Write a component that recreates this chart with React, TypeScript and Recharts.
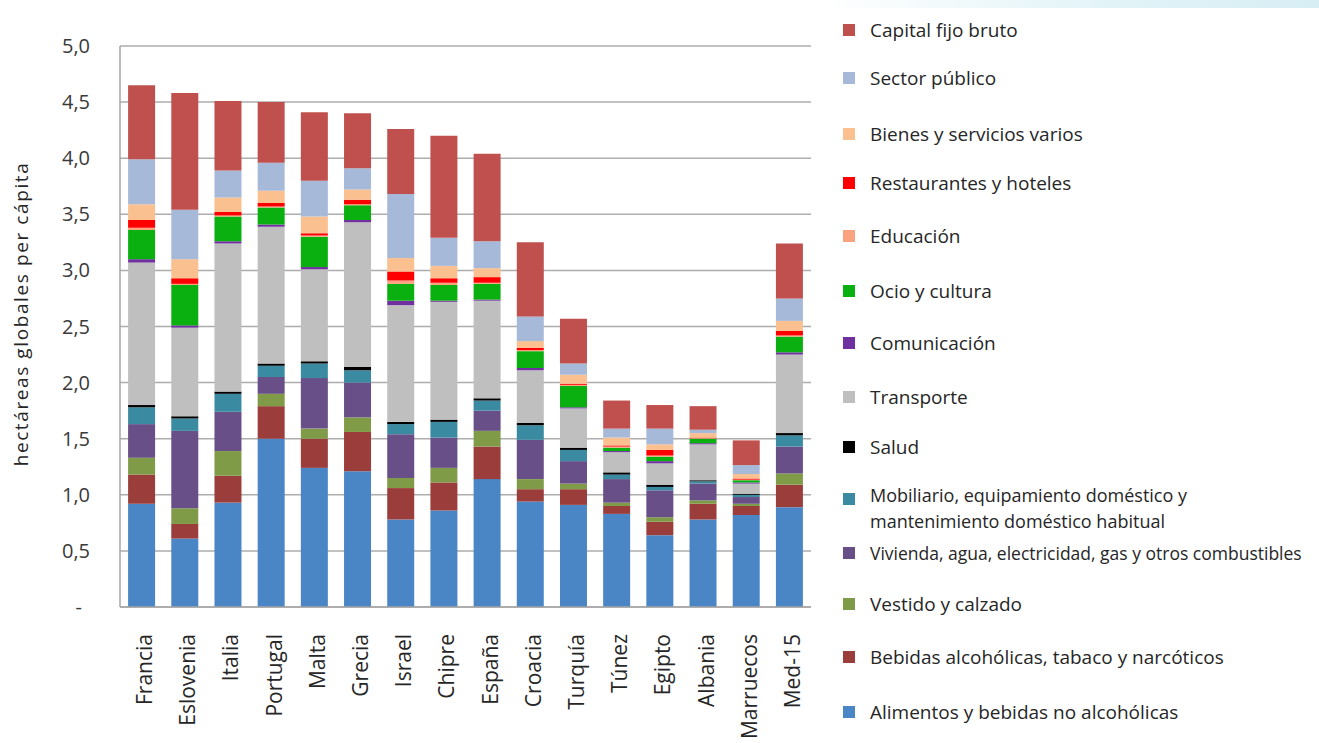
import React from 'react';
import { BarChart, Bar, XAxis, YAxis, CartesianGrid, Legend } from 'recharts';

const categories = ['Francia', 'Eslovenia', 'Italia', 'Portugal', 'Malta', 'Grecia', 'Israel', 'Chipre', 'España', 'Croacia', 'Turquía', 'Túnez', 'Egipto', 'Albania', 'Marruecos', 'Med-15'];

const alimentos = [0.92, 0.61, 0.93, 1.50, 1.24, 1.21, 0.78, 0.86, 1.14, 0.94, 0.91, 0.83, 0.64, 0.78, 0.82, 0.89];
const bebidas = [0.26, 0.13, 0.24, 0.29, 0.26, 0.35, 0.28, 0.25, 0.29, 0.11, 0.14, 0.07, 0.12, 0.14, 0.08, 0.20];
const vestido = [0.15, 0.14, 0.22, 0.11, 0.09, 0.13, 0.09, 0.13, 0.14, 0.09, 0.05, 0.03, 0.04, 0.03, 0.02, 0.10];
const vivienda = [0.30, 0.69, 0.35, 0.15, 0.45, 0.31, 0.39, 0.27, 0.18, 0.35, 0.20, 0.21, 0.24, 0.15, 0.06, 0.24];
const mobiliario = [0.15, 0.11, 0.16, 0.10, 0.13, 0.11, 0.09, 0.14, 0.09, 0.13, 0.10, 0.04, 0.03, 0.02, 0.02, 0.10];
const salud = [0.02, 0.02, 0.02, 0.02, 0.02, 0.03, 0.02, 0.02, 0.02, 0.02, 0.02, 0.02, 0.02, 0.01, 0.01, 0.02];
const transporte = [1.27, 0.79, 1.32, 1.22, 0.82, 1.29, 1.04, 1.05, 0.87, 0.47, 0.35, 0.18, 0.19, 0.32, 0.09, 0.70];
const comunicacion = [0.03, 0.02, 0.02, 0.02, 0.02, 0.02, 0.04, 0.01, 0.01, 0.02, 0.01, 0.01, 0.02, 0.01, 0.01, 0.02];
const ocio = [0.26, 0.36, 0.22, 0.15, 0.27, 0.13, 0.15, 0.14, 0.14, 0.15, 0.19, 0.03, 0.04, 0.04, 0.02, 0.14];
const educacion = [0.02, 0.01, 0.01, 0.01, 0.01, 0.01, 0.03, 0.02, 0.01, 0.01, 0.01, 0.01, 0.01, 0.005, 0.005, 0.01];
const restaurantes = [0.07, 0.05, 0.03, 0.03, 0.02, 0.04, 0.08, 0.04, 0.05, 0.02, 0.01, 0.01, 0.05, 0.005, 0.01, 0.04];
const bienes = [0.14, 0.17, 0.13, 0.11, 0.15, 0.09, 0.12, 0.11, 0.08, 0.06, 0.08, 0.07, 0.05, 0.04, 0.04, 0.09];
const sectorPublico = [0.40, 0.44, 0.24, 0.25, 0.32, 0.19, 0.57, 0.25, 0.24, 0.22, 0.10, 0.08, 0.14, 0.03, 0.08, 0.20];
const capitalFijo = [0.66, 1.04, 0.62, 0.54, 0.61, 0.49, 0.58, 0.91, 0.78, 0.66, 0.40, 0.25, 0.21, 0.21, 0.22, 0.49];

const yTicks = [0, 0.5, 1, 1.5, 2, 2.5, 3, 3.5, 4, 4.5, 5];
const yAxisTitle = 'hectáreas globales per cápita';

// stacking order: bottom -> top
const seriesDefs = [
  { key: 'alimentos', name: 'Alimentos y bebidas no alcohólicas', color: '#4A86C6', values: alimentos },
  { key: 'bebidas', name: 'Bebidas alcohólicas, tabaco y narcóticos', color: '#9B3D3B', values: bebidas },
  { key: 'vestido', name: 'Vestido y calzado', color: '#7F9B47', values: vestido },
  { key: 'vivienda', name: 'Vivienda, agua, electricidad, gas y otros combustibles', color: '#684F87', values: vivienda },
  { key: 'mobiliario', name: 'Mobiliario, equipamiento doméstico y\nmantenimiento doméstico habitual', color: '#3A8BA1', values: mobiliario },
  { key: 'salud', name: 'Salud', color: '#000000', values: salud },
  { key: 'transporte', name: 'Transporte', color: '#BFBFBF', values: transporte },
  { key: 'comunicacion', name: 'Comunicación', color: '#7030A0', values: comunicacion },
  { key: 'ocio', name: 'Ocio y cultura', color: '#09B010', values: ocio },
  { key: 'educacion', name: 'Educación', color: '#FBA27E', values: educacion },
  { key: 'restaurantes', name: 'Restaurantes y hoteles', color: '#FF0000', values: restaurantes },
  { key: 'bienes', name: 'Bienes y servicios varios', color: '#FAC08F', values: bienes },
  { key: 'sector', name: 'Sector público', color: '#A7B9D9', values: sectorPublico },
  { key: 'capital', name: 'Capital fijo bruto', color: '#C0504D', values: capitalFijo },
];

const data = categories.map((c, i) => {
  const row: any = { categoria: c };
  seriesDefs.forEach((s) => {
    row[s.key] = s.values[i];
  });
  return row;
});

// legend layout (top -> bottom), first-line centre y in px
const LEGEND_LAYOUT = {
  markerLeft: 843,
  textLeft: 870,
  lineHeight: 26,
  rows: [30, 78, 134, 183, 236, 291, 343, 397, 447, 495, 553, 604, 657, 712],
  fontSizes: [19, 19, 19, 19, 19, 19, 19, 19, 19, 18, 17.5, 19, 19, 19],
};

const TEXT_FONT = '"Open Sans", "Noto Sans", sans-serif';

const fmtTick = (v: number) => (v === 0 ? '-' : v.toFixed(1).replace('.', ','));

const YTick = (props: any) => {
  const { x, y, payload } = props;
  const v = payload.value as number;
  return (
    <text
      x={v === 0 ? x - 8 : x}
      y={y}
      dy="0.35em"
      textAnchor="end"
      fontSize={20}
      fontFamily={TEXT_FONT}
      fill="#3A3A3A"
    >
      {fmtTick(v)}
    </text>
  );
};

const XTick = (props: any) => {
  const { x, y, payload } = props;
  return (
    <text
      x={0}
      y={0}
      transform={`translate(${x},${y}) rotate(-90)`}
      dy="0.5em"
      textAnchor="end"
      fontSize={21}
      fontFamily={TEXT_FONT}
      fill="#262626"
    >
      {payload.value}
    </text>
  );
};

const YTitle = (props: any) => {
  const vb = props.viewBox || { x: 0, y: 46, width: 120, height: 561 };
  const cx = vb.x + 21;
  const cy = vb.y + 268;
  return (
    <text
      x={0}
      y={0}
      transform={`translate(${cx},${cy}) rotate(-90)`}
      textAnchor="middle"
      dy="0.35em"
      fontSize={19}
      letterSpacing={1.6}
      fontFamily={TEXT_FONT}
      fill="#262626"
    >
      {yAxisTitle}
    </text>
  );
};

const renderLegend = () => {
  const items = seriesDefs.slice().reverse();
  return (
    <div style={{ position: 'absolute', left: 0, top: 0, width: 0, height: 0 }}>
      {items.map((s, i) => {
        const cy = LEGEND_LAYOUT.rows[i];
        const lh = LEGEND_LAYOUT.lineHeight;
        return (
          <React.Fragment key={s.key}>
            <div
              style={{
                position: 'absolute',
                left: LEGEND_LAYOUT.markerLeft,
                top: cy - 6 + (s.name.includes('\n') ? 4 : 0),
                width: 12,
                height: 12,
                background: s.color,
              }}
            />
            <div
              style={{
                position: 'absolute',
                left: LEGEND_LAYOUT.textLeft,
                top: cy - lh / 2,
                lineHeight: `${lh}px`,
                fontSize: LEGEND_LAYOUT.fontSizes[i],
                fontFamily: TEXT_FONT,
                color: '#262626',
                whiteSpace: 'pre',
              }}
            >
              {s.name}
            </div>
          </React.Fragment>
        );
      })}
    </div>
  );
};

export default function App() {
  return (
    <div
      style={{
        position: 'absolute',
        left: 0,
        top: 0,
        width: 1319,
        height: 743,
        background: '#ffffff',
        overflow: 'hidden',
        fontFamily: TEXT_FONT,
      }}
    >
      <div
        style={{
          position: 'absolute',
          left: 820,
          top: 0,
          width: 499,
          height: 8,
          background: 'linear-gradient(to right, rgba(225,243,247,0), rgba(225,243,247,1) 60%, rgba(215,238,244,1))',
        }}
      />
      <BarChart
        width={1319}
        height={743}
        data={data}
        margin={{ top: 46, right: 508, bottom: 0, left: 0 }}
        barCategoryGap="18.75%"
      >
        <CartesianGrid vertical={false} stroke="#ADADAD" strokeWidth={1.5} />
        <XAxis
          dataKey="categoria"
          interval={0}
          height={136}
          tickSize={0}
          tickMargin={27}
          tickLine={false}
          axisLine={{ stroke: '#A6A6A6', strokeWidth: 1.5 }}
          tick={<XTick />}
        />
        <YAxis
          domain={[0, 5]}
          ticks={yTicks}
          width={120}
          tickSize={0}
          tickMargin={30}
          tickLine={false}
          axisLine={{ stroke: '#A6A6A6', strokeWidth: 1.5 }}
          tick={<YTick />}
          label={<YTitle />}
          allowDataOverflow
        />
        <Legend
          content={renderLegend}
          wrapperStyle={{ position: 'absolute', left: 0, top: 0, width: 0, height: 0, overflow: 'visible' }}
        />
        {seriesDefs.map((s) => (
          <Bar
            key={s.key}
            dataKey={s.key}
            name={s.name}
            stackId="total"
            fill={s.color}
            isAnimationActive={false}
          />
        ))}
      </BarChart>
    </div>
  );
}
